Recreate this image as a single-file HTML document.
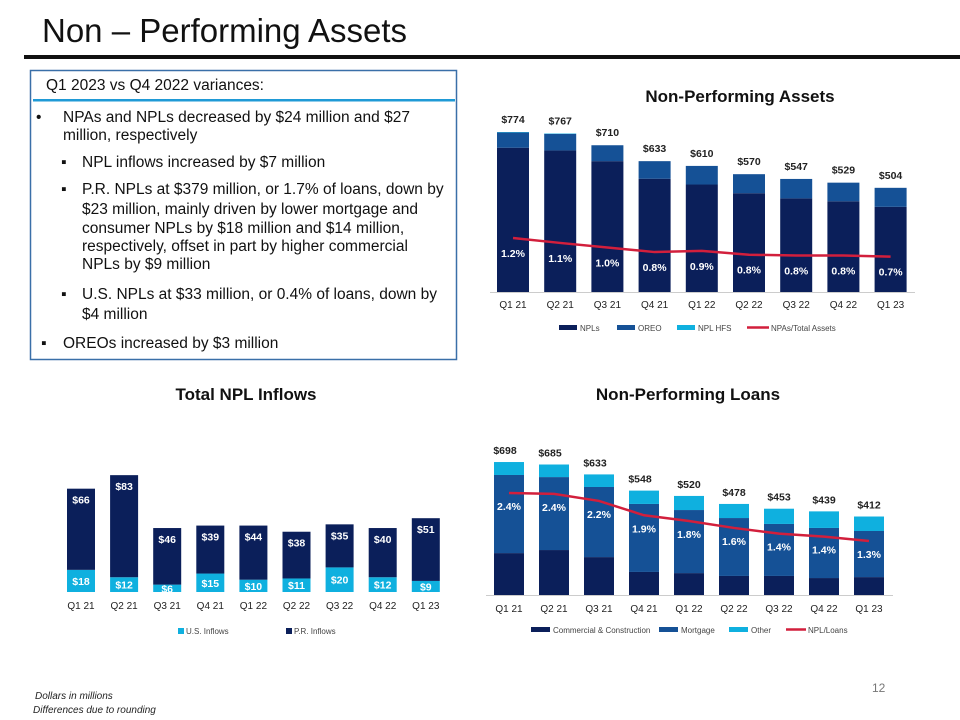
<!DOCTYPE html>
<html><head><meta charset="utf-8">
<style>
html,body{margin:0;padding:0;background:#fff;}
svg{display:block;font-family:"Liberation Sans",sans-serif;}
.tx{font-size:15.5px;fill:#111;}
.vl{font-size:10.5px;font-weight:bold;fill:#222;}
.il{font-size:10.5px;font-weight:bold;fill:#fff;}
.xl{font-size:10px;fill:#222;}
.lg{font-size:8px;fill:#444;}
.ct{font-size:17px;font-weight:bold;fill:#111;}
</style></head><body>
<svg id="s" width="960" height="720" viewBox="0 0 960 720">
<text x="42" y="42" font-size="33" fill="#111">Non – Performing Assets</text>
<rect x="24" y="55" width="936" height="4" fill="#111"/>
<g>
<rect x="30.5" y="70.5" width="426" height="289" fill="none" stroke="#3a6fa8" stroke-width="1.5"/>
<rect x="33" y="99" width="422" height="2.5" fill="#1f9ad6"/>
<text class="tx" x="46" y="90">Q1 2023 vs Q4 2022 variances:</text>
<text class="tx" x="36" y="122">•</text>
<text class="tx" x="63" y="122">NPAs and NPLs decreased by $24 million and $27</text>
<text class="tx" x="63" y="140">million, respectively</text>
<text class="tx" x="61" y="167" font-size="11">▪</text><text class="tx" x="82" y="167">NPL inflows increased by $7 million</text>
<text class="tx" x="61" y="194" font-size="11">▪</text><text class="tx" x="82" y="194">P.R. NPLs at $379 million, or 1.7% of loans, down by</text>
<text class="tx" x="82" y="214">$23 million, mainly driven by lower mortgage and</text>
<text class="tx" x="82" y="233">consumer NPLs by $18 million and $14 million,</text>
<text class="tx" x="82" y="251">respectively, offset in part by higher commercial</text>
<text class="tx" x="82" y="269">NPLs by $9 million</text>
<text class="tx" x="61" y="299" font-size="11">▪</text><text class="tx" x="82" y="299">U.S. NPLs at $33 million, or 0.4% of loans, down by</text>
<text class="tx" x="82" y="319">$4 million</text>
<text class="tx" x="41" y="348" font-size="11">▪</text><text class="tx" x="63" y="348">OREOs increased by $3 million</text>
</g>
<text class="ct" x="740" y="102" text-anchor="middle">Non-Performing Assets</text>
<text class="ct" x="246" y="400" text-anchor="middle">Total NPL Inflows</text>
<text class="ct" x="688" y="400" text-anchor="middle">Non-Performing Loans</text>
<g id="npa"></g>
<g id="inf"></g>
<g id="npl"></g>
<text x="872" y="692" font-size="12" fill="#777">12</text>
<text x="35" y="699" font-size="10" font-style="italic" fill="#222">Dollars in millions</text>
<text x="33" y="713" font-size="10" font-style="italic" fill="#222">Differences due to rounding</text>
</svg>
<script>
const quarters = ["Q1 21","Q2 21","Q3 21","Q4 21","Q1 22","Q2 22","Q3 22","Q4 22","Q1 23"];
// NPA chart
const npaNPLs = [698,685,633,548,520,478,453,439,412];
const npaOREO = [74,80,77,85,90,92,94,90,92];
const npaHFS = [2,2,0,0,0,0,0,0,0];
const npaTotals = [774,767,710,633,610,570,547,529,504];
const npaRatio = [1.2,1.07,0.95,0.83,0.86,0.76,0.74,0.74,0.71];
const npaRatioLabels = ["1.2%","1.1%","1.0%","0.8%","0.9%","0.8%","0.8%","0.8%","0.7%"];
// Inflows chart
const usInflows = [18,12,6,15,10,11,20,12,9];
const prInflows = [66,83,46,39,44,38,35,40,51];
// NPL chart
const nplComm = [220,236,199,121,115,100,100,89,94];
const nplMort = [410,383,368,357,331,304,273,263,242];
const nplOther = [68,66,66,70,74,74,80,87,76];
const nplTotals = [698,685,633,548,520,478,453,439,412];
const nplRatio = [2.4,2.38,2.22,1.89,1.76,1.6,1.47,1.4,1.3];
const nplRatioLabels = ["2.4%","2.4%","2.2%","1.9%","1.8%","1.6%","1.4%","1.4%","1.3%"];

const NS="http://www.w3.org/2000/svg";
const C1="#0b1f5a",C2="#155196",C3="#0fb0df",RED="#d21f3c";
function mk(p,t,a,txt){const e=document.createElementNS(NS,t);for(const k in a)e.setAttribute(k,a[k]);if(txt!==undefined)e.textContent=txt;p.appendChild(e);return e;}

// ---- NPA chart ----
(function(){
const g=document.getElementById('npa');
const base=292,k=0.2067,x0=513,step=47.2,bw=32;
const xs=i=>x0+i*step, ys=v=>base-v*k, yr=v=>283.6-v*38;
mk(g,'line',{x1:490,y1:base+0.5,x2:915,y2:base+0.5,stroke:'#ccc'});
quarters.forEach((q,i)=>{
  let y=base;
  [[npaNPLs[i],C1,'npl'],[npaOREO[i],C2,'oreo'],[npaHFS[i],C3,'npl-hfs']].forEach(([v,c,n])=>{
    const h=v*k; y-=h;
    const r=mk(g,'rect',{x:xs(i)-bw/2,y:y,width:bw,height:h,fill:c});
    
    
  });
  const t=mk(g,'text',{class:'vl','text-anchor':'middle',x:xs(i),y:ys(npaTotals[i])-9},'$'+npaTotals[i]);
  
  
  const xl=mk(g,'text',{class:'xl','text-anchor':'middle',x:xs(i),y:308},q);
  
  
});
const pl=mk(g,'polyline',{points:npaRatio.map((v,i)=>xs(i)+','+yr(v)).join(' '),fill:'none',stroke:RED,'stroke-width':2.5});


npaRatio.forEach((v,i)=>{
  const t=mk(g,'text',{class:'il','text-anchor':'middle',x:xs(i),y:yr(v)+19},npaRatioLabels[i]);
  
  
});
[[559,'NPLs',C1],[617,'OREO',C2],[677,'NPL HFS',C3]].forEach(([x,l,c])=>{
  const s=mk(g,'rect',{x:x,y:325,width:18,height:5,fill:c});
  
  
  const t=mk(g,'text',{class:'lg',x:x+21,y:331},l);
  
  
});
mk(g,'line',{x1:747,y1:327.5,x2:769,y2:327.5,stroke:RED,'stroke-width':2.5});
const lt=mk(g,'text',{class:'lg',x:771,y:331},'NPAs/Total Assets');


})();

// ---- Inflows chart ----
(function(){
const g=document.getElementById('inf');
const base=592,k=1.23,x0=81,step=43.1,bw=28;
const xs=i=>x0+i*step;
quarters.forEach((q,i)=>{
  const hu=usInflows[i]*k,hp=prInflows[i]*k;
  const r1=mk(g,'rect',{x:xs(i)-bw/2,y:base-hu,width:bw,height:hu,fill:C3});
  
  
  const r2=mk(g,'rect',{x:xs(i)-bw/2,y:base-hu-hp,width:bw,height:hp,fill:C1});
  
  
  const t1=mk(g,'text',{class:'il','text-anchor':'middle',x:xs(i),y:base-hu/2+4},'$'+usInflows[i]);
  
  
  const t2=mk(g,'text',{class:'il','text-anchor':'middle',x:xs(i),y:base-hu-hp+15},'$'+prInflows[i]);
  
  
  const xl=mk(g,'text',{class:'xl','text-anchor':'middle',x:xs(i),y:609},q);
  
  
});
[[178,'U.S. Inflows',C3],[286,'P.R. Inflows',C1]].forEach(([x,l,c])=>{
  const s=mk(g,'rect',{x:x,y:628,width:6,height:6,fill:c});
  
  
  const t=mk(g,'text',{class:'lg',x:x+8,y:634,'font-size':'8.5'},l);
  
  
});
})();

// ---- NPL chart ----
(function(){
const g=document.getElementById('npl');
const base=595,k=0.1905,x0=509,step=45,bw=30;
const xs=i=>x0+i*step, ys=v=>base-v*k, yr=v=>597.7-v*43.6;
mk(g,'line',{x1:486,y1:base+0.5,x2:893,y2:base+0.5,stroke:'#ccc'});
quarters.forEach((q,i)=>{
  let y=base;
  [[nplComm[i],C1,'commercial'],[nplMort[i],C2,'mortgage'],[nplOther[i],C3,'other']].forEach(([v,c,n])=>{
    const h=v*k; y-=h;
    const r=mk(g,'rect',{x:xs(i)-bw/2,y:y,width:bw,height:h,fill:c});
    
    
  });
  const t=mk(g,'text',{class:'vl','text-anchor':'middle',x:xs(i)-(i<4?4:0),y:ys(nplTotals[i])-8},'$'+nplTotals[i]);
  
  
  const xl=mk(g,'text',{class:'xl','text-anchor':'middle',x:xs(i),y:612},q);
  
  
});
const pl=mk(g,'polyline',{points:nplRatio.map((v,i)=>xs(i)+','+yr(v)).join(' '),fill:'none',stroke:RED,'stroke-width':2.5});


nplRatio.forEach((v,i)=>{
  const t=mk(g,'text',{class:'il','text-anchor':'middle',x:xs(i),y:yr(v)+17},nplRatioLabels[i]);
  
  
});
[[531,'Commercial & Construction',C1],[659,'Mortgage',C2],[729,'Other',C3]].forEach(([x,l,c])=>{
  const s=mk(g,'rect',{x:x,y:627,width:19,height:5,fill:c});
  
  
  const t=mk(g,'text',{class:'lg',x:x+22,y:633},l);
  
  
});
mk(g,'line',{x1:786,y1:629.5,x2:806,y2:629.5,stroke:RED,'stroke-width':2.5});
const lt=mk(g,'text',{class:'lg',x:808,y:633},'NPL/Loans');


})();
</script>
</body></html>
